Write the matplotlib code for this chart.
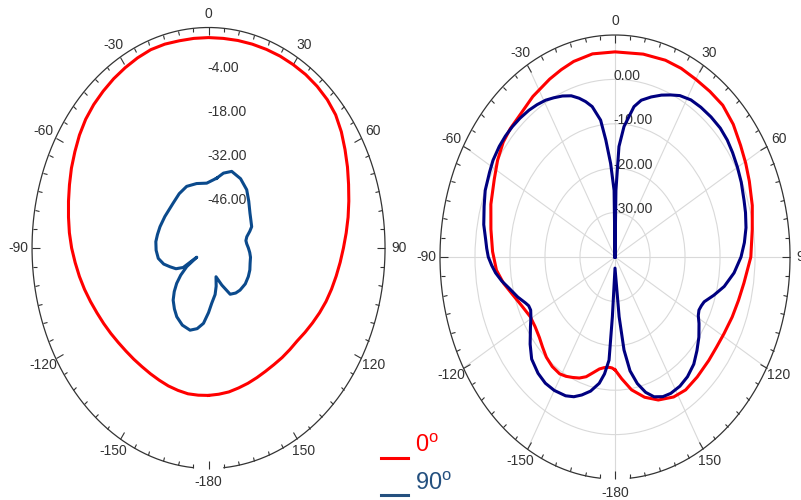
import numpy as np
import matplotlib.pyplot as plt
from matplotlib.lines import Line2D

plt.rcParams['font.family'] = ['Liberation Sans', 'DejaVu Sans']

# angle ticks (0 at top, clockwise)
ang_ticks = np.arange(0, 360, 30)
ang_tick_labels = ['0', '30', '60', '90', '120', '150',
                   '-180', '-150', '-120', '-90', '-60', '-30']

# left pattern
left_ang_0 = np.arange(-180, 181, 5)
left_db_0 = [-13.2, -13.1, -13.0, -13.2, -13.4, -13.7, -13.9, -14.0, -13.9,
             -13.7, -13.3, -12.7, -12.0, -11.2, -10.2, -9.1, -8.0, -6.9, -5.7,
             -4.6, -3.6, -2.5, -1.3, 0.0, 1.2, 2.5, 3.6, 4.4, 5.0, 5.6, 6.1,
             6.6, 7.0, 7.0, 6.8, 6.8, 6.8, 6.8, 6.9, 7.0, 7.1, 7.2, 7.2, 7.2,
             7.0, 6.6, 5.8, 4.3, 2.5, 0.8, -0.9, -2.4, -3.8, -5.2, -6.5, -7.6,
             -8.6, -9.5, -10.4, -11.4, -12.4, -13.3, -14.1, -14.4, -14.6,
             -14.8, -14.8, -14.6, -14.3, -14.0, -13.6, -13.4, -13.2]
left_ang_90 = [8.3, 14, 20.7, 30, 39.3, 47, 56.1, 62, 68.4, 72, 76.7, 81, 85,
               90, 95, 100, 106.6, 113, 119.9, 128, 137, 143, 149.7, 155.9,
               162, 166, 170, 175.9, 180, 184.8, 190, 195.7, 203, 210, 215,
               220.3, 224.5, 228.4, 232, 235.6, 238, 238.4, 243, 248.7, 254,
               260.6, 268, 275.5, 282, 289.4, 300, 315.4, 326, 336.1, 347,
               358, 368.3]
left_db_90 = [-37.6, -35.5, -34.0, -34.6, -36.1, -38.2, -40.2, -41.0, -41.6,
              -42.8, -44.4, -45.0, -44.8, -44.2, -43.6, -43.1, -42.8, -42.2,
              -41.8, -41.5, -41.7, -42.1, -43.0, -47.1, -50.4, -47.5, -45.0,
              -42.4, -39.5, -36.0, -34.0, -32.9, -33.4, -34.8, -36.4, -38.3,
              -40.6, -43.1, -46.0, -49.5, -54.5, -48.2, -45.5, -43.6, -41.5,
              -39.8, -39.2, -39.0, -39.3, -39.6, -40.0, -40.0, -39.2, -38.6,
              -39.0, -39.4, -37.6]
left_rings = [-46, -32, -18, -4]
left_ring_labels = ['-46.00', '-32.00', '-18.00', '-4.00']
left_range = (-60, 10)

# right pattern
right_ang_0 = [-180, -178, -176, -173, -170, -166.5, -163, -159.5, -156,
               -152.5, -149, -144, -139, -134.5, -130, -124.5, -119, -112.5,
               -106, -100.5, -95, -88, -80, -71.5, -63, -57, -51, -46, -41,
               -33, -25, -20, -15, -8, 0, 10, 18, 24, 30, 36, 42, 48.5, 55,
               60.5, 66, 73.5, 81, 90, 99, 105.5, 112, 119, 125, 131, 139,
               146, 152, 159, 165, 171, 176, 180]
right_db_0 = [-14.6, -15.0, -15.1, -14.9, -14.4, -13.2, -11.8, -10.9, -10.3,
              -9.7, -9.3, -9.5, -10.1, -11.0, -11.8, -12.3, -12.3, -11.2, -9.5,
              -7.6, -6.0, -5.0, -4.0, -2.6, -1.3, 0.0, 1.1, 1.6, 1.9, 3.1, 4.2,
              4.9, 5.6, 6.2, 6.2, 6.4, 6.6, 6.5, 6.2, 6.1, 6.0, 5.1, 3.8, 2.9,
              2.0, 0.9, -0.3, -1.2, -2.7, -3.4, -3.9, -4.4, -4.6, -4.5, -4.2,
              -3.9, -4.3, -5.5, -7.3, -9.7, -12.5, -14.6]
right_ang_90 = [0, 1, 2.6, 5, 9.1, 12, 16, 20, 23.5, 27, 31.5, 36, 41, 46,
                50.6, 55, 60, 65, 71, 75, 80, 85, 90, 96, 102, 107, 111.6, 114,
                116.5, 119, 122, 127, 132, 137, 142.5, 147.5, 152.6, 156.5,
                160.5, 164, 167.4, 170.5, 173, 175, 180, 183.2, 184.2, 186.5,
                189, 193, 197, 200.5, 204.3, 210, 215, 220, 226, 231, 237,
                240.5, 243.6, 246, 248, 252, 257, 260.5, 264, 267, 270, 273,
                276, 281, 287, 292, 298, 302, 307, 311, 315, 319, 323.4, 327,
                330.7, 334, 337.5, 341, 344, 346.5, 349.1, 352.4, 354.3, 356.6,
                359, 360]
right_db_90 = [-40, -25, -15.1, -10.5, -5.7, -3.9, -2.5, -1.2, -0.2, 0.8, 1.5,
               1.7, 1.8, 1.8, 1.5, 1.0, 0.4, -0.2, -1.0, -1.4, -2.0, -2.9,
               -4.0, -5.8, -8.1, -10.5, -12.6, -13.0, -13.2, -12.8, -11.7,
               -10.0, -8.5, -7.0, -6.0, -5.5, -5.4, -5.7, -6.6, -8.3, -10.8,
               -14.0, -18.9, -26.5, -37.5, -26.5, -16.7, -13.5, -11.2, -9.0,
               -7.5, -6.4, -5.7, -5.3, -5.3, -5.8, -6.9, -8.8, -11.2, -12.4,
               -13.1, -13.0, -12.4, -10.8, -8.9, -7.2, -5.7, -4.7, -3.8, -3.3,
               -2.85, -1.8, -0.9, 0.0, 0.6, 1.1, 1.4, 1.5, 1.5, 1.4, 1.2, 0.9,
               0.5, -0.1, -0.75, -1.6, -2.8, -4.0, -5.5, -8.9, -13.5, -18.9,
               -25, -40]
right_rings = [-30, -20, -10, 0]
right_ring_labels = ['-30.00', '-20.00', '-10.00', '0.00']
right_range = (-40, 10)

legend_labels = ['0', '90']
legend_colors = ['#ff0000', '#24507f']

TXT = '#333333'


def setup(ax, rlim, rings, ring_labels, show_grid):
    ax.set_aspect('auto')
    ax.set_theta_zero_location('N')
    ax.set_theta_direction(-1)
    ax.set_xticks(np.deg2rad(ang_ticks), ang_tick_labels)
    ax.set_xticks(np.deg2rad(np.arange(0, 360, 5)), minor=True)
    # tick2 sits on the outer ring, tick1 at the centre
    ax.tick_params(axis='x', which='both', tick1On=False, tick2On=True)
    ax.tick_params(axis='x', which='major', direction='in', length=6,
                   width=0.8, color=TXT, labelsize=10, labelcolor=TXT, pad=3)
    ax.tick_params(axis='x', which='minor', direction='in', length=3,
                   width=0.8, color=TXT)
    ax.set_yticks(rings, [''] * len(rings))
    ax.tick_params(axis='y', length=0)
    ax.spines['polar'].set_visible(False)
    if show_grid:
        ax.grid(True, color='#d9d9d9', lw=0.8)
    else:
        ax.grid(False)
    # outer ring, open around -180
    arc = np.deg2rad(np.linspace(-175, 175, 351))
    ax.plot(arc, np.full(arc.shape, rlim[1]), color=TXT, lw=0.9, clip_on=False)
    for r, lab in zip(rings, ring_labels):
        ax.annotate(lab, (0, r), xytext=(-1, 2.5), textcoords='offset points',
                    ha='left', va='center', fontsize=10, color=TXT)
    ax.set_ylim(*rlim)


fig = plt.figure(figsize=(8.01, 5.0), dpi=100)

ax1 = fig.add_axes([0.040, 0.063, 0.4407, 0.882], projection='polar')
setup(ax1, left_range, left_rings, left_ring_labels, False)
ax1.plot(np.deg2rad(left_ang_0), left_db_0, color='#ff0000', lw=2.2)
ax1.plot(np.deg2rad(left_ang_90), left_db_90, color='#0b4a8c', lw=2.2)

ax2 = fig.add_axes([0.5493, 0.042, 0.437, 0.888], projection='polar')
setup(ax2, right_range, right_rings, right_ring_labels, True)
ax2.plot(np.deg2rad(right_ang_0), right_db_0, color='#ff0000', lw=2.2, zorder=4)
ax2.plot(np.deg2rad(right_ang_90), right_db_90, color='#000080', lw=2.2, zorder=4)

# legend
for i, (lab, col) in enumerate(zip(legend_labels, legend_colors)):
    ly = 0.085 - i * 0.075
    fig.add_artist(Line2D([0.476, 0.509], [ly, ly], color=col, lw=2.2))
    fig.text(0.518, ly + 0.011, r'$\mathregular{' + lab + '^o}$', color=col,
             fontsize=17, ha='left', va='baseline')

fig.savefig('out.png', dpi=100)
